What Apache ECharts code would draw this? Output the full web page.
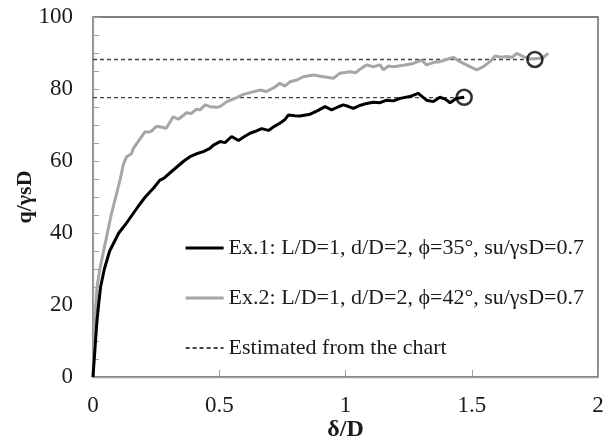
<!DOCTYPE html>
<html>
<head>
<meta charset="utf-8">
<script src="https://cdn.jsdelivr.net/npm/echarts@6/dist/echarts.min.js"></script>
<style>
  html, body { margin: 0; padding: 0; background: #fff; }
  #chart { width: 606px; height: 439px; }
</style>
</head>
<body>
<div id="chart"></div>
<script>
// Ex.1 (black) : [delta/D, q/gsD]
var ex1 = [[0,0],[0.005,5],[0.01,10],[0.015,15],[0.022,20],[0.03,25],[0.045,30],[0.066,35],[0.102,40],
  [0.13,42.5],[0.155,45],[0.18,47.5],[0.207,50],[0.24,52.5],[0.265,54.7],[0.28,55.2],[0.318,57.5],
  [0.36,60],[0.384,61.2],[0.41,62],[0.437,62.6],[0.463,63.5],[0.477,64.4],[0.503,65.4],[0.523,65.1],
  [0.549,66.8],[0.576,65.7],[0.6,66.8],[0.622,67.7],[0.645,68.3],[0.668,69],[0.695,68.5],[0.72,69.7],
  [0.74,70.5],[0.76,71.5],[0.774,72.8],[0.8,72.6],[0.82,72.5],[0.86,73],[0.89,74],[0.919,75.1],
  [0.945,74.2],[0.97,75],[0.991,75.6],[1.01,75.2],[1.031,74.6],[1.06,75.5],[1.084,76],[1.11,76.3],
  [1.137,76.2],[1.163,76.9],[1.19,76.7],[1.216,77.4],[1.255,77.9],[1.288,78.8],[1.305,77.8],
  [1.321,76.9],[1.348,76.5],[1.374,77.7],[1.395,77.2],[1.414,76.2],[1.44,77.4],[1.47,77.7]];

// Ex.2 (grey)
var ex2 = [[0,0],[0.005,10],[0.01,18],[0.016,25],[0.027,30],[0.042,35],[0.057,40],[0.072,45],[0.09,50],
  [0.108,55],[0.12,59],[0.133,61.2],[0.152,62],[0.16,63.5],[0.18,65.5],[0.206,68.1],[0.22,68],
  [0.232,68.3],[0.25,69.6],[0.265,69.5],[0.29,69.1],[0.318,72.3],[0.338,71.6],[0.371,73.4],[0.39,73.2],
  [0.41,74.4],[0.424,74.2],[0.444,75.6],[0.464,75.1],[0.49,74.9],[0.503,75.1],[0.53,76.5],[0.569,77.6],
  [0.595,78.5],[0.622,79],[0.661,79.7],[0.687,79.3],[0.72,80.5],[0.74,81.6],[0.76,80.8],[0.78,82],
  [0.807,82.5],[0.833,83.4],[0.873,83.9],[0.912,83.4],[0.952,83],[0.978,84.4],[1.018,84.8],[1.04,84.5],
  [1.057,85.5],[1.084,86.7],[1.11,86.2],[1.137,86.7],[1.15,85.3],[1.17,86.4],[1.19,86.2],[1.23,86.6],
  [1.268,87.1],[1.302,88],[1.321,86.7],[1.35,87.4],[1.374,87.6],[1.4,88.2],[1.427,88.8],[1.453,87.6],
  [1.493,86.2],[1.52,85.3],[1.546,86.2],[1.572,87.6],[1.592,89.2],[1.615,88.8],[1.638,89],[1.66,88.8],
  [1.678,89.9],[1.704,89],[1.73,88.5],[1.75,88.4],[1.78,88.6],[1.803,89.9]];

// estimated ultimate values (dashed lines + circles)
var est1 = [[0,77.6],[1.47,77.6]];
var est2 = [[0,88.2],[1.75,88.2]];
var circles = [[1.47,77.7],[1.75,88.2]];

var names = ['Ex.1: L/D=1, d/D=2, ϕ=35°, su/γsD=0.7',
             'Ex.2: L/D=1, d/D=2, ϕ=42°, su/γsD=0.7',
             'Estimated from the chart'];
var xTicks = [0, 0.5, 1, 1.5, 2];
var yTicks = [0, 20, 40, 60, 80, 100];

var serif = '"Liberation Serif", "DejaVu Serif", serif';
var chart = echarts.init(document.getElementById('chart'));

var option = {
  animation: false,
  grid: { left: 93, top: 17, right: 8, bottom: 62, show: true, borderColor: '#555', borderWidth: 1.3,
          outerBoundsMode: 'none' },
  legend: {
    data: [
      { name: names[0], lineStyle: { width: 3.2 } },
      { name: names[1], lineStyle: { width: 3.2 } },
      { name: names[2] }
    ],
    orient: 'vertical',
    left: 179, top: 232,
    itemWidth: 38, itemHeight: 14, itemGap: 28,
    itemStyle: { opacity: 0 },
    textStyle: { fontFamily: serif, fontSize: 22, color: '#1a1a1a', lineHeight: 22 }
  },
  xAxis: {
    type: 'value', min: 0, max: 2, interval: 0.5,
    name: 'δ/D', nameLocation: 'middle', nameGap: 41, nameMoveOverlap: false,
    nameTextStyle: { fontFamily: serif, fontSize: 24, fontWeight: 'bold', color: '#1a1a1a' },
    axisLine: { lineStyle: { color: '#a0a0a0', width: 1.3 } },
    axisTick: { inside: true, length: 7, lineStyle: { color: '#a0a0a0' } },
    axisLabel: { margin: 17, fontFamily: serif, fontSize: 23, color: '#1a1a1a',
      formatter: function (v) { return xTicks.indexOf(v) >= 0 ? String(v) : ''; } },
    splitLine: { show: false }
  },
  yAxis: {
    type: 'value', min: 0, max: 100, interval: 20,
    name: 'q/γsD', nameLocation: 'middle', nameGap: 57, nameMoveOverlap: false,
    nameTextStyle: { fontFamily: serif, fontSize: 22, fontWeight: 'bold', color: '#1a1a1a' },
    axisLine: { show: true, lineStyle: { color: '#a0a0a0', width: 1.3 } },
    axisTick: { inside: true, length: 6, lineStyle: { color: '#a0a0a0' } },
    minorTick: { show: true, splitNumber: 4, length: 6, lineStyle: { color: '#a0a0a0' } },
    axisLabel: { margin: 20, fontFamily: serif, fontSize: 23, color: '#1a1a1a',
      formatter: function (v) { return yTicks.indexOf(v) >= 0 ? String(v) : ''; } },
    splitLine: { show: false }
  },
  series: [
    { name: names[2], type: 'line', data: est1, symbol: 'none', z: 1,
      lineStyle: { color: '#444', width: 1.3, type: [4, 3] }, itemStyle: { color: '#444' } },
    { name: names[2], type: 'line', data: est2, symbol: 'none', z: 1,
      lineStyle: { color: '#444', width: 1.3, type: [4, 3] }, itemStyle: { color: '#444' } },
    { name: names[1], type: 'line', data: ex2, symbol: 'none', z: 2,
      lineStyle: { color: '#a6a6a6', width: 3 }, itemStyle: { color: '#a6a6a6' } },
    { name: names[0], type: 'line', data: ex1, symbol: 'none', z: 3,
      lineStyle: { color: '#000', width: 3 }, itemStyle: { color: '#000' } },
    { type: 'scatter', data: circles, symbol: 'circle', symbolSize: 15, z: 4,
      itemStyle: { color: 'rgba(255,255,255,0)', borderColor: '#000', borderWidth: 2.6 } }
  ]
};
chart.setOption(option);
</script>
</body>
</html>
